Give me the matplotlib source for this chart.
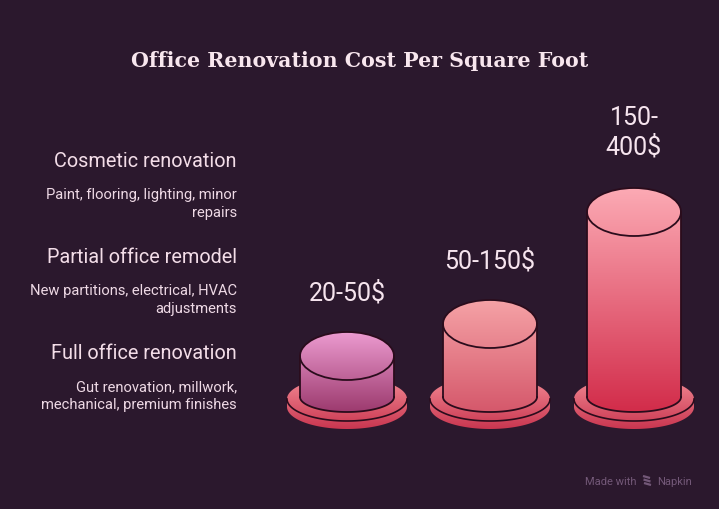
import numpy as np
import matplotlib.pyplot as plt
from matplotlib.patches import Polygon, Ellipse
from matplotlib.colors import LinearSegmentedColormap

# chart data
categories = ['Cosmetic renovation', 'Partial office remodel', 'Full office renovation']
descriptions = ['Paint, flooring, lighting, minor\nrepairs',
                'New partitions, electrical, HVAC\nadjustments',
                'Gut renovation, millwork,\nmechanical, premium finishes']
price_labels = ['20-50$', '50-150$', '150-\n400$']
bar_heights = [41, 73, 185]
bar_colors = [('#ec9bd0', '#9c3a6e'), ('#f5a2a6', '#d5586b'), ('#fcaab4', '#d22c4a')]

BG = '#2b182d'
TXT = '#f6e4ee'
EDGE = '#2a0c1c'

fig = plt.figure(figsize=(7.19, 5.10), dpi=100)
fig.patch.set_facecolor(BG)
ax = fig.add_axes([0, 0, 1, 1])
ax.set_facecolor(BG)
ax.axis('off')


def grad_fill(pts, c_top, c_bot, z):
    poly = Polygon(pts, closed=True, facecolor='none', edgecolor='none', zorder=z)
    ax.add_patch(poly)
    cmap = LinearSegmentedColormap.from_list('g', [c_top, c_bot])
    g = np.linspace(0, 1, 256).reshape(-1, 1)
    x0, x1 = pts[:, 0].min(), pts[:, 0].max()
    y0, y1 = pts[:, 1].min(), pts[:, 1].max()
    im = ax.imshow(g, cmap=cmap, extent=(x0, x1, y1, y0), aspect='auto',
                   interpolation='bilinear', zorder=z)
    im.set_clip_path(poly)


def silhouette(cx, a, y_top, b_top, y_bot, b_bot):
    t = np.linspace(np.pi, 0, 80)
    top = np.column_stack([cx + a * np.cos(t), y_top - b_top * np.sin(t)])
    t2 = np.linspace(0, np.pi, 80)
    bot = np.column_stack([cx + a * np.cos(t2), y_bot + b_bot * np.sin(t2)])
    return np.vstack([top, bot])


base_y = 398
centers = [347, 490, 634]
for i, (cx, h) in enumerate(zip(centers, bar_heights)):
    z = 2 + i * 3
    # base disc
    dy, da, db, dt = 400, 60, 22, 8
    grad_fill(silhouette(cx, da, dy, db, dy + dt, db), '#f28a94', '#c93650', z)
    t = np.linspace(0, np.pi, 80)
    ax.plot(cx + da * np.cos(t), dy + db * np.sin(t), color=EDGE, lw=1.2, zorder=z)

    # cylinder
    a, bt, bb = 47, 24, 15
    yt = base_y - h
    c_top, c_bot = bar_colors[i]
    grad_fill(silhouette(cx, a, yt, bt, base_y, bb), c_top, c_bot, z + 1)
    ax.add_patch(Ellipse((cx, yt), 2 * a, 2 * bt, facecolor='none', edgecolor=EDGE,
                         lw=1.3, zorder=z + 2))
    ax.plot([cx - a, cx - a], [yt, base_y], color=EDGE, lw=1.3, zorder=z + 2)
    ax.plot([cx + a, cx + a], [yt, base_y], color=EDGE, lw=1.3, zorder=z + 2)
    ax.plot(cx + a * np.cos(t), base_y + bb * np.sin(t), color=EDGE, lw=1.3, zorder=z + 2)

    # value label
    ly = yt - bt - 40 if '\n' not in price_labels[i] else yt - bt - 56
    ax.text(cx, ly, price_labels[i], ha='center', va='center', fontsize=18,
            family='Roboto', color=TXT, linespacing=1.25, zorder=20)

# left side labels
head_y = [162, 258, 354]
for cat, desc, hy in zip(categories, descriptions, head_y):
    ax.text(237, hy, cat, ha='right', va='center', fontsize=14.3, family='Roboto',
            color='#f3dde8')
    ax.text(237, hy + 42, desc, ha='right', va='center', fontsize=10.6, family='Roboto',
            color='#eed9e5', linespacing=1.3)

ax.text(360, 61, 'Office Renovation Cost Per Square Foot', ha='center', va='center',
        fontsize=14.8, family='DejaVu Serif', fontweight='bold', color='#f8e6ee')

# watermark
ax.text(585, 482, 'Made with', ha='left', va='center', fontsize=8, family='Roboto',
        color='#735878')
for k in range(3):
    ax.plot([643 + k * 0.5, 650 + k * 0.5], [477 + k * 3.5, 479 + k * 3.5],
            color='#735878', lw=1.6, solid_capstyle='butt')
ax.text(657, 482, 'Napkin', ha='left', va='center', fontsize=8, family='Roboto',
        color='#735878')

ax.set_xlim(0, 719)
ax.set_ylim(510, 0)
fig.savefig('out.png', dpi=100, facecolor=BG)
